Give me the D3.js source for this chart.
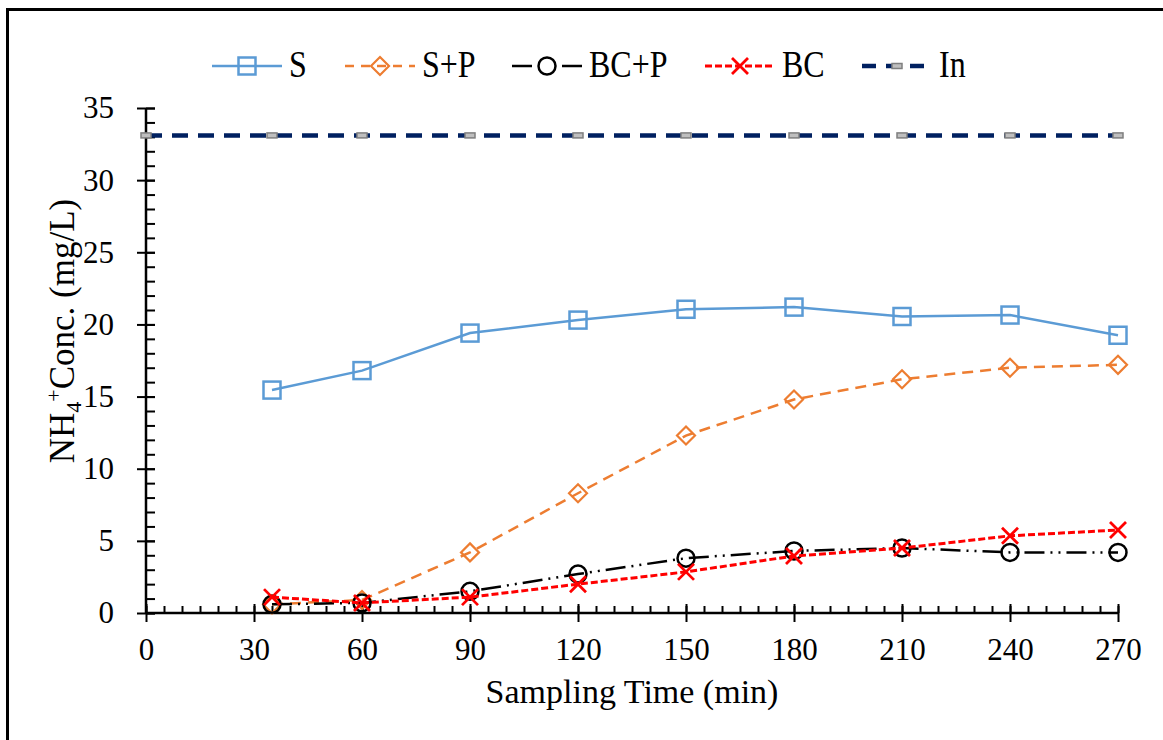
<!DOCTYPE html>
<html>
<head>
<meta charset="utf-8">
<title>NH4+ Concentration vs Sampling Time</title>
<script src="https://cdn.jsdelivr.net/npm/d3@7"></script>
<style>
body { margin: 0; background: #fff; }
svg text {
  font-family: "Liberation Serif", "Times New Roman", serif;
  fill: #000;
}
</style>
</head>
<body>
<svg id="chart" width="1163" height="740"></svg>
<script>

/* ---- data ---- */
var times    = [35, 60, 90, 120, 150, 180, 210, 240, 270];
var in_times = [0, 35, 60, 90, 120, 150, 180, 210, 240, 270];

var s_vals   = [15.45, 16.8, 19.4, 20.3, 21.05, 21.2, 20.55, 20.65, 19.25];
var sp_vals  = [0.6, 0.9, 4.2, 8.3, 12.3, 14.8, 16.2, 17.0, 17.2];
var bcp_vals = [0.6, 0.7, 1.5, 2.7, 3.8, 4.3, 4.5, 4.2, 4.2];
var bc_vals  = [1.1, 0.7, 1.1, 2.0, 2.85, 3.95, 4.5, 5.35, 5.75];
var in_vals  = [33.1, 33.1, 33.1, 33.1, 33.1, 33.1, 33.1, 33.1, 33.1, 33.1];

var x_ticks = [0, 30, 60, 90, 120, 150, 180, 210, 240, 270];
var y_ticks = [0, 5, 10, 15, 20, 25, 30, 35];

/* ---- series look ---- */
var series = [
  { name: "S",    x: times,    y: s_vals,   color: "#5B9BD5", dash: null,              width: 2.5, marker: "square" },
  { name: "S+P",  x: times,    y: sp_vals,  color: "#ED7D31", dash: "11,7",            width: 2.5, marker: "diamond" },
  { name: "BC+P", x: times,    y: bcp_vals, color: "#000000", dash: "20,6,2,6,2,6",    width: 2.5, marker: "circle" },
  { name: "BC",   x: times,    y: bc_vals,  color: "#FF0000", dash: "7,3",             width: 3,   marker: "cross" },
  { name: "In",   x: in_times, y: in_vals,  color: "#002060", dash: "16,10",           width: 4.5, marker: "bar" }
];

var svg = d3.select("#chart");

// outer chart frame (runs off the right and bottom edges)
svg.append("rect")
    .attr("x", 7.5).attr("y", 9.5)
    .attr("width", 1200).attr("height", 800)
    .attr("fill", "#fff")
    .attr("stroke", "#000")
    .attr("stroke-width", 3);

var x = d3.scaleLinear().domain([0, 270]).range([146, 1118]);
var y = d3.scaleLinear().domain([0, 35]).range([613, 108]);

/* ---- axes ---- */
// minor ticks first, inside the plot
svg.append("g")
    .attr("transform", "translate(0," + y(0) + ")")
    .call(d3.axisBottom(x).tickValues(d3.range(0, 271, 5)).tickSize(-7).tickFormat(""))
    .call(function(g) { g.select(".domain").remove(); })
    .selectAll("line").attr("stroke", "#000").attr("stroke-width", 2);

svg.append("g")
    .attr("transform", "translate(" + x(0) + ",0)")
    .call(d3.axisLeft(y).tickValues(d3.range(0, 36, 1)).tickSize(-9).tickFormat(""))
    .call(function(g) { g.select(".domain").remove(); })
    .selectAll("line").attr("stroke", "#000").attr("stroke-width", 2);

// major ticks cross the axis line
var x_axis = svg.append("g")
    .attr("transform", "translate(0," + y(0) + ")")
    .call(d3.axisBottom(x).tickValues(x_ticks).tickSize(9).tickPadding(16))
    .call(function(g) { g.select(".domain").remove(); });
x_axis.selectAll(".tick line").attr("y1", -9).attr("stroke", "#000").attr("stroke-width", 2);
x_axis.selectAll(".tick text").attr("font-size", 31).attr("font-family", "Liberation Serif").attr("fill", "#000");

var y_axis = svg.append("g")
    .attr("transform", "translate(" + x(0) + ",0)")
    .call(d3.axisLeft(y).tickValues(y_ticks).tickSize(9).tickPadding(23))
    .call(function(g) { g.select(".domain").remove(); });
y_axis.selectAll(".tick line").attr("x1", 9).attr("stroke", "#000").attr("stroke-width", 2);
y_axis.selectAll(".tick text").attr("font-size", 31).attr("font-family", "Liberation Serif").attr("fill", "#000");

// axis lines
svg.append("line")
    .attr("x1", x(0)).attr("x2", x(270)).attr("y1", y(0)).attr("y2", y(0))
    .attr("stroke", "#000").attr("stroke-width", 2.5);
svg.append("line")
    .attr("x1", x(0)).attr("x2", x(0)).attr("y1", y(0)).attr("y2", y(35))
    .attr("stroke", "#000").attr("stroke-width", 2.5);

// axis titles
svg.append("text")
    .attr("x", (x(0) + x(270)) / 2)
    .attr("y", 703)
    .attr("text-anchor", "middle")
    .attr("font-size", 34)
    .text("Sampling Time (min)");

var y_title = svg.append("text")
    .attr("transform", "translate(74,331) rotate(-90)")
    .attr("text-anchor", "middle")
    .attr("font-size", 35);
y_title.append("tspan").text("NH");
y_title.append("tspan").attr("font-size", 22).attr("dy", 7).text("4");
y_title.append("tspan").attr("font-size", 22).attr("dy", -20).text("+");
y_title.append("tspan").attr("dy", 13).text("Conc. (mg/L)");

/* ---- markers ---- */
function draw_marker(g, type, cx, cy, color) {
  if (type === "square") {
    g.append("rect")
        .attr("x", cx - 8.5).attr("y", cy - 8.5).attr("width", 17).attr("height", 17)
        .attr("fill", "none").attr("stroke", color).attr("stroke-width", 2.5);
  } else if (type === "diamond") {
    g.append("path")
        .attr("d", "M" + cx + "," + (cy - 9) + "L" + (cx + 9) + "," + cy + "L" + cx + "," + (cy + 9) + "L" + (cx - 9) + "," + cy + "Z")
        .attr("fill", "none").attr("stroke", color).attr("stroke-width", 2.2);
  } else if (type === "circle") {
    g.append("circle")
        .attr("cx", cx).attr("cy", cy).attr("r", 8.5)
        .attr("fill", "none").attr("stroke", color).attr("stroke-width", 2.5);
  } else if (type === "cross") {
    g.append("path")
        .attr("d", "M" + (cx - 8) + "," + (cy - 8) + "L" + (cx + 8) + "," + (cy + 8) +
                   "M" + (cx + 8) + "," + (cy - 8) + "L" + (cx - 8) + "," + (cy + 8))
        .attr("fill", "none").attr("stroke", color).attr("stroke-width", 2.8);
  } else if (type === "bar") {
    g.append("rect")
        .attr("x", cx - 5).attr("y", cy - 2.5).attr("width", 10).attr("height", 5)
        .attr("fill", "#BFBFBF").attr("stroke", "#7F7F7F").attr("stroke-width", 1.5);
  }
}

/* ---- series lines and points ---- */
var line = d3.line()
    .x(function(d) { return x(d[0]); })
    .y(function(d) { return y(d[1]); });

// draw "In" first so it sits underneath, the rest in legend order
var draw_order = [4, 0, 1, 2, 3];
draw_order.forEach(function(i) {
  var s = series[i];
  var pts = d3.zip(s.x, s.y);
  var g = svg.append("g").attr("class", "series");
  g.append("path")
      .attr("d", line(pts))
      .attr("fill", "none")
      .attr("stroke", s.color)
      .attr("stroke-width", s.width)
      .attr("stroke-dasharray", s.dash);
  pts.forEach(function(p) {
    draw_marker(g, s.marker, x(p[0]), y(p[1]), s.color);
  });
});

/* ---- legend ---- */
var legend_x = [212, 345, 512, 705, 862];
var legend_y = 66;
// legend lines use a simpler dash than the plotted ones
var legend_dash = [null, "9,7", "20,30,20", "7,3", "14,10"];

series.forEach(function(s, i) {
  var g = svg.append("g").attr("class", "legend");
  var x0 = legend_x[i];
  g.append("line")
      .attr("x1", x0).attr("x2", x0 + 70)
      .attr("y1", legend_y).attr("y2", legend_y)
      .attr("stroke", s.color)
      .attr("stroke-width", s.width)
      .attr("stroke-dasharray", legend_dash[i]);
  draw_marker(g, s.marker, x0 + 35, legend_y, s.color);
  g.append("text")
      .attr("transform", "translate(" + (x0 + 77) + "," + (legend_y + 11) + ") scale(1,1.2)")
      .attr("font-size", 32)
      .text(s.name);
});

</script>
</body>
</html>
